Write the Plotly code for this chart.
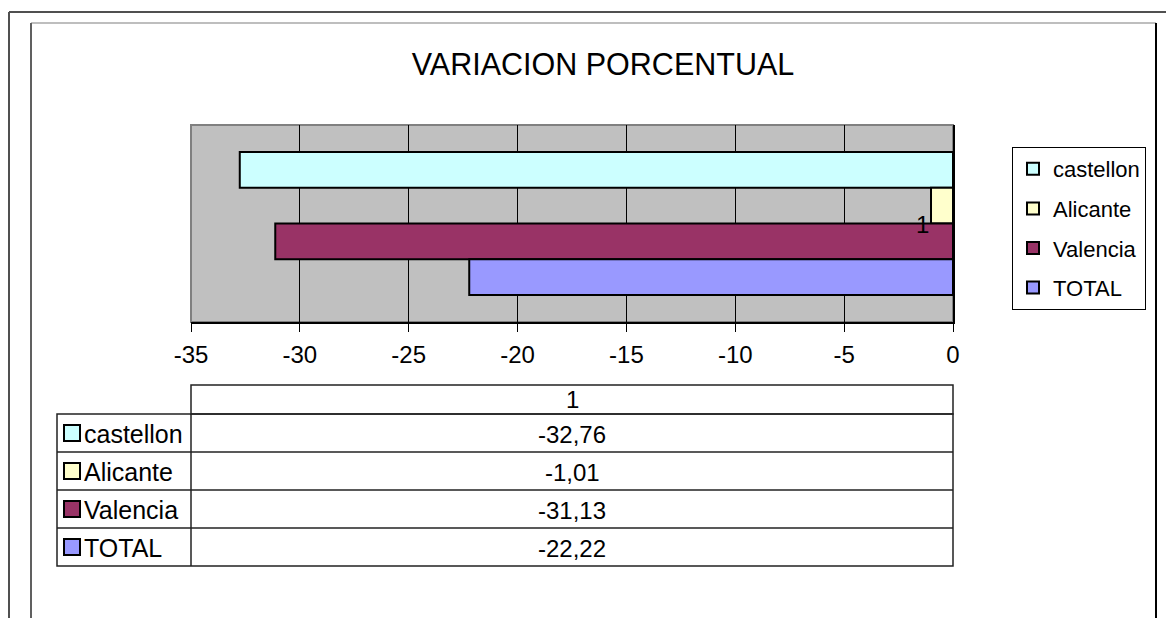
import plotly.graph_objects as go

# ---------------- data ----------------
title_text = "VARIACION PORCENTUAL"
category = ["1"]
series = ["castellon", "Alicante", "Valencia", "TOTAL"]
values = [-32.76, -1.01, -31.13, -22.22]
x_ticks = [-35, -30, -25, -20, -15, -10, -5, 0]

# ---------------- style ----------------
colors = ["#CCFFFF", "#FFFFCC", "#993366", "#9999FF"]
FONT = "Liberation Sans, Arial, Helvetica, sans-serif"
W, H = 1166, 618


def fx(px):
    return px / W


def fy(py):
    return 1 - py / H


fig = go.Figure()
for name, val, col in zip(series, values, colors):
    fig.add_trace(go.Bar(
        y=category, x=[val], name=name, orientation="h",
        legendgroup=name,
        marker=dict(color=col, line=dict(color="black", width=2)),
        hoverinfo="x+name",
    ))

shapes = []
annotations = []

# plot-area border (grey)
shapes.append(dict(type="rect", xref="x domain", yref="y domain", x0=0, x1=1, y0=0, y1=1,
                   line=dict(color="#808080", width=2), layer="below"))


def line(x0, y0, x1, y1, color, width):
    shapes.append(dict(type="line", xref="paper", yref="paper",
                       x0=fx(x0), y0=fy(y0), x1=fx(x1), y1=fy(y1),
                       line=dict(color=color, width=width)))


def rect(x0, y0, x1, y1, color, width, fill=None):
    d = dict(type="rect", xref="paper", yref="paper",
             x0=fx(x0), y0=fy(y1), x1=fx(x1), y1=fy(y0),
             line=dict(color=color, width=width))
    if fill:
        d["fillcolor"] = fill
    shapes.append(d)


# page / chart frames
line(9, 12, 1166, 12, "#505050", 2)
line(9, 12, 9, 618, "#505050", 2)
line(31, 23, 1156, 23, "#A8A8A8", 1.5)
line(31, 23, 31, 618, "#606060", 2)
line(1156, 23, 1156, 618, "#000000", 2)

# category-axis label ("1") next to the value-axis origin (category index 0)
for ci, cat in enumerate(category):
    annotations.append(dict(xref="x", yref="y", x=0, y=ci, text=cat,
                            showarrow=False, xanchor="right", yanchor="middle",
                            xshift=-22, yshift=-1,
                            font=dict(size=24, color="black", family=FONT)))

# ---------------- data table below the chart ----------------
tbl_left, col_split, tbl_right = 57, 191, 953
hdr_top, body_top, row_h = 385, 414, 38
n = len(series)
body_bottom = body_top + n * row_h
tcol = "#222222"

rect(col_split, hdr_top, tbl_right, body_top, tcol, 1.5)
rect(tbl_left, body_top, tbl_right, body_bottom, tcol, 1.5)
line(col_split, body_top, col_split, body_bottom, tcol, 1.5)
for i in range(1, n):
    yy = body_top + i * row_h
    line(tbl_left, yy, tbl_right, yy, tcol, 1.5)

val_center = (col_split + tbl_right) / 2
annotations.append(dict(xref="paper", yref="paper", x=fx(val_center),
                        y=fy((hdr_top + body_top) / 2), text=category[0],
                        showarrow=False, xanchor="center", yanchor="middle",
                        font=dict(size=24, color="black", family=FONT)))
for i, (name, val, col) in enumerate(zip(series, values, colors)):
    cy = body_top + (i + 0.5) * row_h
    rect(64, cy - 8, 80, cy + 8, "black", 2, fill=col)
    annotations.append(dict(xref="paper", yref="paper", x=fx(82), y=fy(cy + 1),
                            text=name, showarrow=False, xanchor="left", yanchor="middle",
                            font=dict(size=25, color="black", family=FONT)))
    annotations.append(dict(xref="paper", yref="paper", x=fx(val_center), y=fy(cy + 1),
                            text=f"{val:.2f}".replace(".", ","), showarrow=False,
                            xanchor="center", yanchor="middle",
                            font=dict(size=24, color="black", family=FONT)))

fig.update_layout(
    width=W, height=H, autosize=False,
    margin=dict(l=0, r=0, t=0, b=0, autoexpand=False),
    paper_bgcolor="white", plot_bgcolor="#C0C0C0",
    font=dict(family=FONT, color="black"),
    title=dict(text=title_text, x=fx(603), y=fy(64), xanchor="center", yanchor="middle",
               xref="paper", yref="paper",
               font=dict(size=30.5, color="black", family=FONT)),
    barmode="group", bargap=0.274, bargroupgap=0,
    xaxis=dict(domain=[fx(191), fx(953)], range=[-35, 0], tickmode="array",
               tickvals=x_ticks, ticktext=[str(t) for t in x_ticks],
               ticks="outside", ticklen=8, tickcolor="black", tickwidth=1,
               showline=True, linecolor="black", linewidth=2,
               showgrid=True, gridcolor="black", gridwidth=1, zeroline=False,
               tickfont=dict(size=24, color="black"), ticklabelstandoff=2,
               automargin=False, fixedrange=True),
    yaxis=dict(domain=[fy(322), fy(125)], type="category", categoryarray=category,
               autorange=False, range=[0.5, -0.5],
               side="right", showticklabels=False, ticks="",
               showline=True, linecolor="black", linewidth=2, showgrid=False,
               automargin=False, fixedrange=True),
    legend=dict(x=fx(1012), y=fy(147), xanchor="left", yanchor="top",
                bordercolor="black", borderwidth=1, bgcolor="white",
                font=dict(size=22, color="black"), traceorder="grouped",
                tracegroupgap=8, itemwidth=30),
    shapes=shapes, annotations=annotations,
    showlegend=True,
)

fig.write_html("out.html", config={"displayModeBar": False},
               post_script="document.body.style.margin='0';")
